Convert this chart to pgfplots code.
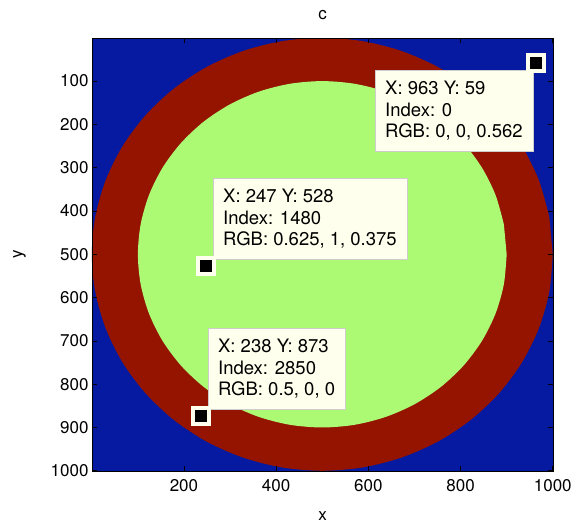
\documentclass[border=0pt]{standalone}
\usepackage{fontspec}
\setmainfont{TeX Gyre Heros}
\usepackage{pgfplots}
\pgfplotsset{compat=1.18}
\definecolor{cblue}{RGB}{5,26,160}
\definecolor{cred}{RGB}{148,20,0}
\definecolor{cgreen}{RGB}{172,250,115}
\definecolor{tipbg}{RGB}{255,255,238}
\definecolor{tipedge}{RGB}{205,205,205}
\begin{document}
\begin{tikzpicture}[font=\fontsize{17bp}{20bp}\selectfont,
  tip/.style={anchor=north west, fill=tipbg, draw=tipedge, align=left, inner xsep=10bp, inner ysep=11bp,
    font=\fontsize{18.5bp}{21.5bp}\selectfont}]
\begin{axis}[name=ax, scale only axis, width=461bp, height=433bp,
  xmin=0.5, xmax=1000.5, ymin=0.5, ymax=1000.5, y dir=reverse,
  xtick={200,400,600,800,1000}, ytick={100,200,300,400,500,600,700,800,900,1000},
  tick align=inside, tick pos=both, major tick length=5bp,
  /pgf/number format/assume math mode=true, /pgf/number format/1000 sep={},
  title={c}, xlabel={x}, ylabel={y},
  title style={yshift=9bp},
  xticklabel style={yshift=-5bp},
  xlabel shift=13bp, ylabel shift=18bp,
  axis on top, axis line style={line width=0.8pt}, tick style={line width=0.6pt, black},
  clip=true]
% background (image value index 0)
\addplot[draw=none, fill=cblue] coordinates {(0.5,0.5) (1000.5,0.5) (1000.5,1000.5) (0.5,1000.5)} -- cycle;
% outer disk, radius 500
\addplot[draw=none, fill=cred, smooth] coordinates {
(1000,500) (992.4,586.8) (969.8,671.0) (933.0,750.0) (883.0,821.4) (821.4,883.0)
(750.0,933.0) (671.0,969.8) (586.8,992.4) (500,1000) (413.2,992.4) (329.0,969.8)
(250.0,933.0) (178.6,883.0) (117.0,821.4) (67.0,750.0) (30.2,671.0) (7.6,586.8)
(0,500) (7.6,413.2) (30.2,329.0) (67.0,250.0) (117.0,178.6) (178.6,117.0)
(250.0,67.0) (329.0,30.2) (413.2,7.6) (500,0) (586.8,7.6) (671.0,30.2)
(750.0,67.0) (821.4,117.0) (883.0,178.6) (933.0,250.0) (969.8,329.0) (992.4,413.2)
} -- cycle;
% inner disk, radius 400
\addplot[draw=none, fill=cgreen, smooth] coordinates {
(900,500) (893.9,569.5) (875.9,636.8) (846.4,700.0) (806.4,757.1) (757.1,806.4)
(700.0,846.4) (636.8,875.9) (569.5,893.9) (500,900) (430.5,893.9) (363.2,875.9)
(300.0,846.4) (242.9,806.4) (193.6,757.1) (153.6,700.0) (124.1,636.8) (106.1,569.5)
(100,500) (106.1,430.5) (124.1,363.2) (153.6,300.0) (193.6,242.9) (242.9,193.6)
(300.0,153.6) (363.2,124.1) (430.5,106.1) (500,100) (569.5,106.1) (636.8,124.1)
(700.0,153.6) (757.1,193.6) (806.4,242.9) (846.4,300.0) (875.9,363.2) (893.9,430.5)
} -- cycle;
% data tips
\addplot[only marks, mark=square*, mark size=8bp, mark options={fill=black, draw=tipbg, line width=4bp}]
  coordinates {(963,59) (247,528) (238,873)};
\node[tip] at (axis cs:614.4,74.4) {X: 963 Y: 59\\Index: 0\\RGB: 0, 0, 0.562};
\node[tip] at (axis cs:263,323.8) {X: 247 Y: 528\\Index: 1480\\RGB: 0.625, 1, 0.375};
\node[tip] at (axis cs:252,670) {X: 238 Y: 873\\Index: 2850\\RGB: 0.5, 0, 0};
\end{axis}
\pgfresetboundingbox
\path[use as bounding box] ([shift={(-92bp,-55bp)}]ax.south west) rectangle ([shift={(484bp,471bp)}]ax.south west);
\end{tikzpicture}
\end{document}
